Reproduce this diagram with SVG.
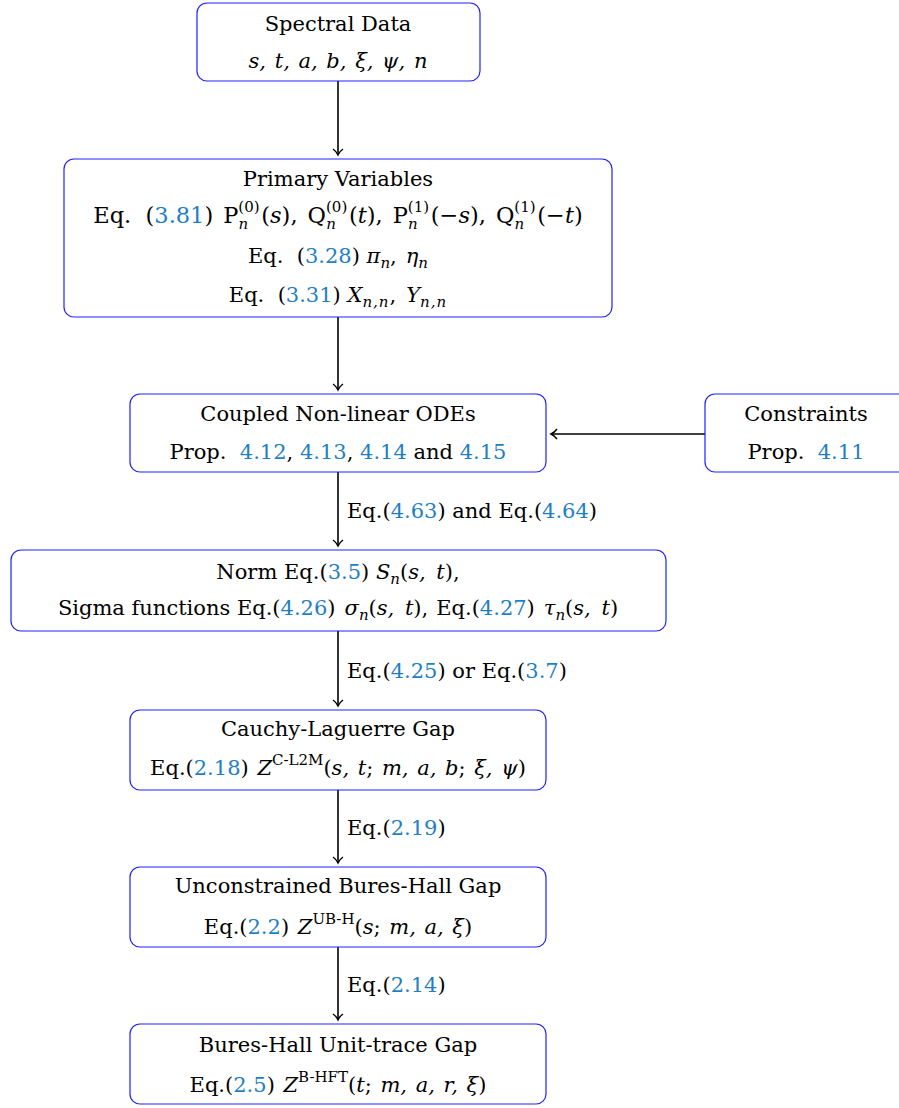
<svg xmlns="http://www.w3.org/2000/svg" width="899" height="1108" viewBox="0 0 899 1108">
<style>
text{font-family:"DejaVu Serif","Liberation Serif",serif;font-size:21px;fill:#000;text-anchor:middle}
.lbl{text-anchor:start}
.i{font-style:italic}
.s{font-size:15px}
.big{font-size:22.5px}
.l{fill:#1f7fc4}
.w{word-spacing:4px}
.box{fill:#fff;stroke:#2020ff;stroke-width:1.2}
.c{stroke:#000;stroke-width:1.6;fill:none}
</style>
<defs>
<marker id="ah" markerWidth="12" markerHeight="14" refX="10" refY="7" orient="auto" markerUnits="userSpaceOnUse">
<path d="M4,2 Q6.5,5.5 10,7 Q6.5,8.5 4,12" fill="none" stroke="#000" stroke-width="1.4"/>
</marker>
</defs>
<g id="connectors">
<line class="c" x1="338" y1="81" x2="338" y2="155" marker-end="url(#ah)"/>
<line class="c" x1="338" y1="317" x2="338" y2="390" marker-end="url(#ah)"/>
<line class="c" x1="338" y1="472" x2="338" y2="546" marker-end="url(#ah)"/>
<line class="c" x1="338" y1="631" x2="338" y2="706" marker-end="url(#ah)"/>
<line class="c" x1="338" y1="790" x2="338" y2="863" marker-end="url(#ah)"/>
<line class="c" x1="338" y1="947" x2="338" y2="1020" marker-end="url(#ah)"/>
<line class="c" x1="705" y1="434" x2="551" y2="434" marker-end="url(#ah)"/>
<text class="lbl" x="347" y="518">Eq.(<tspan class="l">4.63</tspan>) and Eq.(<tspan class="l">4.64</tspan>)</text>
<text class="lbl" x="347" y="678">Eq.(<tspan class="l">4.25</tspan>) or Eq.(<tspan class="l">3.7</tspan>)</text>
<text class="lbl" x="347" y="835">Eq.(<tspan class="l">2.19</tspan>)</text>
<text class="lbl" x="347" y="992">Eq.(<tspan class="l">2.14</tspan>)</text>
</g>
<g id="spectral">
<rect class="box" x="197" y="3" width="283" height="78" rx="10"/>
<text x="338" y="31">Spectral Data</text>
<text x="338" y="68" class="i" word-spacing="2">s, t, a, b, ξ, ψ, n</text>
</g>
<g id="primary">
<rect class="box" x="64" y="159" width="548" height="158" rx="10"/>
<text x="338" y="186">Primary Variables</text>
<text x="338" y="223" class="big">Eq.&#160; (<tspan class="l">3.81</tspan>)<tspan dx="10">P</tspan><tspan class="s" dy="-11">(0)</tspan><tspan class="s i" dx="-21" dy="17">n</tspan><tspan dx="13" dy="-6">(</tspan><tspan class="i">s</tspan>),<tspan dx="10">Q</tspan><tspan class="s" dy="-11">(0)</tspan><tspan class="s i" dx="-21" dy="17">n</tspan><tspan dx="13" dy="-6">(</tspan><tspan class="i">t</tspan>),<tspan dx="10">P</tspan><tspan class="s" dy="-11">(1)</tspan><tspan class="s i" dx="-21" dy="17">n</tspan><tspan dx="13" dy="-6">(−</tspan><tspan class="i">s</tspan>),<tspan dx="10">Q</tspan><tspan class="s" dy="-11">(1)</tspan><tspan class="s i" dx="-21" dy="17">n</tspan><tspan dx="13" dy="-6">(−</tspan><tspan class="i">t</tspan>)</text>
<text x="338" y="263">Eq.&#160; (<tspan class="l">3.28</tspan>) <tspan class="i">π</tspan><tspan class="s i" dy="5">n</tspan><tspan dy="-5">,</tspan><tspan class="i" dx="9">η</tspan><tspan class="s i" dy="5">n</tspan></text>
<text x="338" y="302">Eq.&#160; (<tspan class="l">3.31</tspan>) <tspan class="i">X</tspan><tspan class="s i" dy="5" letter-spacing="1">n,n</tspan><tspan dy="-5">,</tspan><tspan class="i" dx="10">Y</tspan><tspan class="s i" dy="5" letter-spacing="1">n,n</tspan></text>
</g>
<g id="coupled">
<rect class="box" x="130" y="394" width="416" height="78" rx="10"/>
<text x="338" y="421">Coupled Non-linear ODEs</text>
<text x="338" y="459">Prop.&#160; <tspan class="l">4.12</tspan>, <tspan class="l">4.13</tspan>, <tspan class="l">4.14</tspan> and <tspan class="l">4.15</tspan></text>
</g>
<g id="constraints">
<rect class="box" x="705" y="394" width="205" height="78" rx="10"/>
<text x="806" y="421">Constraints</text>
<text x="806" y="459">Prop.&#160; <tspan class="l">4.11</tspan></text>
</g>
<g id="norm">
<rect class="box" x="11" y="550" width="655" height="81" rx="10"/>
<text x="338" y="579">Norm Eq.(<tspan class="l">3.5</tspan>) <tspan class="i">S</tspan><tspan class="s i" dy="5">n</tspan><tspan dy="-5">(</tspan><tspan class="i w">s, t</tspan>),</text>
<text x="338" y="615">Sigma functions Eq.(<tspan class="l">4.26</tspan>)<tspan class="i" dx="9">σ</tspan><tspan class="s i" dy="5">n</tspan><tspan dy="-5">(</tspan><tspan class="i w">s, t</tspan>),<tspan dx="8">Eq.(</tspan><tspan class="l">4.27</tspan>)<tspan class="i" dx="9">τ</tspan><tspan class="s i" dy="5">n</tspan><tspan dy="-5">(</tspan><tspan class="i w">s, t</tspan>)</text>
</g>
<g id="cauchy">
<rect class="box" x="130" y="710" width="416" height="80" rx="10"/>
<text x="338" y="736">Cauchy-Laguerre Gap</text>
<text x="338" y="775" word-spacing="2">Eq.(<tspan class="l">2.18</tspan>) <tspan class="i">Z</tspan><tspan class="s" dy="-10">C-L2M</tspan><tspan dy="10">(</tspan><tspan class="i">s, t</tspan>; <tspan class="i">m, a, b</tspan>; <tspan class="i">ξ, ψ</tspan>)</text>
</g>
<g id="unconstrained">
<rect class="box" x="130" y="867" width="416" height="80" rx="10"/>
<text x="338" y="893">Unconstrained Bures-Hall Gap</text>
<text x="338" y="934" word-spacing="2">Eq.(<tspan class="l">2.2</tspan>) <tspan class="i">Z</tspan><tspan class="s" dy="-10">UB-H</tspan><tspan dy="10">(</tspan><tspan class="i">s</tspan>; <tspan class="i">m, a, ξ</tspan>)</text>
</g>
<g id="bures">
<rect class="box" x="130" y="1024" width="416" height="80" rx="10"/>
<text x="338" y="1052">Bures-Hall Unit-trace Gap</text>
<text x="338" y="1092" word-spacing="2">Eq.(<tspan class="l">2.5</tspan>) <tspan class="i">Z</tspan><tspan class="s" dy="-10">B-HFT</tspan><tspan dy="10">(</tspan><tspan class="i">t</tspan>; <tspan class="i">m, a, r, ξ</tspan>)</text>
</g>
</svg>
